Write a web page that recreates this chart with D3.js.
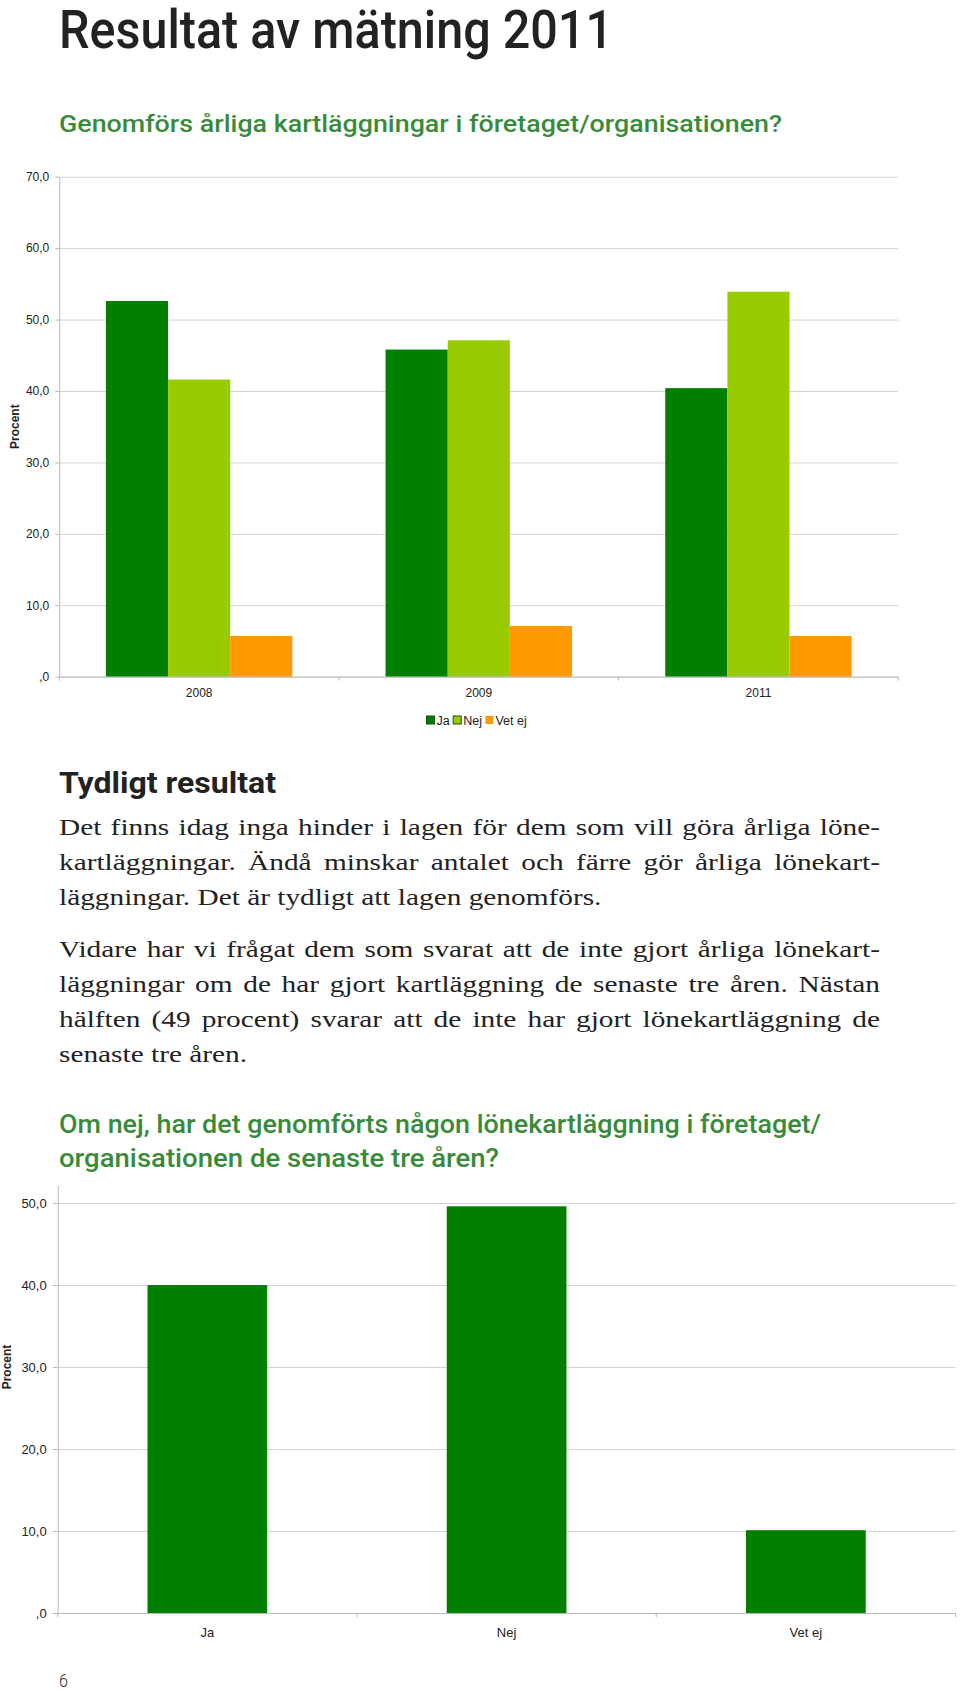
<!DOCTYPE html>
<html>
<head>
<meta charset="utf-8">
<script src="https://cdn.jsdelivr.net/npm/d3@7"></script>
<style>
body{margin:0;background:#fff;}
svg{display:block;}
</style>
</head>
<body>
<svg id="page" width="960" height="1693"></svg>
<script>
/** chart 1 : yearly answers */
var years = ['2008','2009','2011'];
var answers = ['Ja','Nej','Vet ej'];
var jaValues = [52.6, 45.8, 40.4];
var nejValues = [41.6, 47.1, 53.9];
var vetEjValues = [5.7, 7.1, 5.7];
var yTicks1 = [0,10,20,30,40,50,60,70];
var yTickLabels1 = [',0','10,0','20,0','30,0','40,0','50,0','60,0','70,0'];

/** chart 2 : last three years */
var answerValues = [40.0, 49.6, 10.1];
var yTicks2 = [0,10,20,30,40,50];
var yTickLabels2 = [',0','10,0','20,0','30,0','40,0','50,0'];

/** texts */
var pageTitle = 'Resultat av mätning 2011';
var question1 = 'Genomförs årliga kartläggningar i företaget/organisationen?';
var sectionTitle = 'Tydligt resultat';
var paragraph1 = [
	'Det finns idag inga hinder i lagen för dem som vill göra årliga löne-',
	'kartläggningar. Ändå minskar antalet och färre gör årliga lönekart-',
	'läggningar. Det är tydligt att lagen genomförs.'
];
var paragraph2 = [
	'Vidare har vi frågat dem som svarat att de inte gjort årliga lönekart-',
	'läggningar om de har gjort kartläggning de senaste tre åren. Nästan',
	'hälften (49 procent) svarar att de inte har gjort lönekartläggning de',
	'senaste tre åren.'
];
var question2 = [
	'Om nej, har det genomförts någon lönekartläggning i företaget/',
	'organisationen de senaste tre åren?'
];
var pageNumber = '6';

var seriesValues = {'Ja':jaValues,'Nej':nejValues,'Vet ej':vetEjValues};
var colors = {'Ja':'#007f00','Nej':'#99cc00','Vet ej':'#ff9900'};
var green = '#3a8a3c';
var gridColor = '#d4d4d4';
var axisColor = '#b8b8b8';
var headFont = 'Roboto, "Liberation Sans", sans-serif';
var chartFont = '"Liberation Sans", Arial, sans-serif';
var serifFont = '"Liberation Serif", "Times New Roman", serif';

var svg = d3.select('#page');

/** squeezed heading text (the original face is a condensed grotesque) */
function heading(str, x, y, size, width, color, weight){
	return svg.append('text')
	.attr('x', x).attr('y', y)
	.attr('font-family', headFont)
	.attr('font-size', size)
	.attr('font-weight', weight)
	.attr('fill', color)
	.attr('textLength', width)
	.attr('lengthAdjust', 'spacingAndGlyphs')
	.text(str);
}

heading(pageTitle, 59, 48, 53, 554, '#222', 500);
heading(question1, 59, 131.5, 24, 723, green, 500);
heading(sectionTitle, 59, 793, 30, 217, '#222', 700);
heading(question2[0], 59, 1133, 25, 762, green, 500);
heading(question2[1], 59, 1167, 25, 440, green, 500);
heading(pageNumber, 59, 1687, 19, 9, '#333', 300);

/** body text : the original serif is wider, so words are stretched;
 *  justified lines share the rest as word spacing, last lines stay natural */
function paragraph(lines, x, y0, lineHeight, right){
	var size = 23, stretch = 1.275;
	lines.forEach(function(line, i){
		var y = y0 + i*lineHeight;
		var last = (i === lines.length-1);
		var words = line.split(' ');
		var g = svg.append('g').attr('font-family', serifFont).attr('font-size', size).attr('fill', '#222');
		var nodes = words.map(function(w){ return g.append('text').attr('y', y).text(w); });
		var widths = nodes.map(function(n){ return n.node().getComputedTextLength()*stretch; });
		var space = size*0.25*stretch;
		if(!last){
			space = (right - x - d3.sum(widths))/(words.length-1);
		}
		var cx = x;
		nodes.forEach(function(n, k){
			n.attr('x', cx)
			.attr('textLength', widths[k])
			.attr('lengthAdjust', 'spacingAndGlyphs');
			cx += widths[k] + space;
		});
	});
}
paragraph(paragraph1, 59, 835, 35, 880);
paragraph(paragraph2, 59, 957, 35, 880);

/** common axis styling */
function styleAxis(g, size){
	g.selectAll('.domain').attr('stroke', axisColor);
	g.selectAll('.tick line').attr('stroke', axisColor);
	g.selectAll('.tick text').attr('fill', '#222').attr('font-family', chartFont).attr('font-size', size);
}

function procentLabel(x, y){
	svg.append('text')
	.attr('transform', 'translate(' + x + ',' + y + ') rotate(-90)')
	.attr('text-anchor', 'middle')
	.attr('font-family', chartFont)
	.attr('font-size', 12)
	.attr('font-weight', 'bold')
	.attr('fill', '#222')
	.text('Procent');
}

/** ---------- chart 1 ---------- */
(function(){
	var left = 59.3, right = 898.3, top = 176.7, bottom = 676.7;
	var x0 = d3.scaleBand().domain(years).range([left, right]);
	var x1 = d3.scaleBand().domain(answers).range([0, x0.bandwidth()]).paddingOuter(0.75);
	var y = d3.scaleLinear().domain([0, 70]).range([bottom, top]);

	svg.append('g')
	.attr('transform', 'translate(' + left + ',0)')
	.call(d3.axisLeft(y).tickValues(yTicks1).tickSize(-(right-left)).tickFormat(''))
	.call(function(g){
		g.select('.domain').remove();
		g.selectAll('.tick line').attr('stroke', gridColor);
	});

	var groups = svg.append('g').selectAll('g')
	.data(years)
	.join('g')
	.attr('transform', function(d){ return 'translate(' + x0(d) + ',0)'; });

	groups.selectAll('rect')
	.data(function(d, i){ return answers.map(function(a){ return {answer:a, value:seriesValues[a][i]}; }); })
	.join('rect')
	.attr('x', function(d){ return x1(d.answer); })
	.attr('y', function(d){ return y(d.value); })
	.attr('width', x1.bandwidth())
	.attr('height', function(d){ return bottom - y(d.value); })
	.attr('fill', function(d){ return colors[d.answer]; });

	var yAxis = svg.append('g')
	.attr('transform', 'translate(' + left + ',0)')
	.call(d3.axisLeft(y).tickValues(yTicks1).tickFormat(function(d, i){ return yTickLabels1[i]; }).tickSize(4).tickSizeOuter(0).tickPadding(6));
	styleAxis(yAxis, 12);

	// x axis : labels at band centres, small ticks at band limits
	var xAxis = svg.append('g')
	.attr('transform', 'translate(0,' + bottom + ')')
	.call(d3.axisBottom(x0).tickSize(0).tickSizeOuter(0).tickPadding(12));
	styleAxis(xAxis, 12);
	xAxis.selectAll('.bound')
	.data(years.map(function(d){ return x0(d); }).concat([right]))
	.join('line')
	.attr('class', 'bound')
	.attr('x1', function(d){ return d; }).attr('x2', function(d){ return d; })
	.attr('y1', 0).attr('y2', 4)
	.attr('stroke', axisColor);

	procentLabel(18.5, 426.7);

	// legend
	var legend = svg.append('g').attr('font-family', chartFont).attr('font-size', 12.5).attr('fill', '#222');
	var lx = 426;
	answers.forEach(function(a){
		legend.append('rect')
		.attr('x', lx + 0.5).attr('y', 716).attr('width', 8).attr('height', 8)
		.attr('fill', colors[a])
		.attr('stroke', a === 'Vet ej' ? 'none' : '#1d4d12')
		.attr('stroke-width', 1);
		var t = legend.append('text').attr('x', lx + 10.5).attr('y', 724.5).text(a);
		lx += 10.5 + t.node().getComputedTextLength() + 3;
	});
})();

/** ---------- chart 2 ---------- */
(function(){
	var left = 57.7, right = 955.5, top = 1185, bottom = 1613;
	var x = d3.scaleBand().domain(answers).range([left, right]).paddingInner(0.6).paddingOuter(0.3);
	var xBounds = d3.scaleBand().domain(answers).range([left, right]);
	var y = d3.scaleLinear().domain([0, 52.2]).range([bottom, top]);

	svg.append('g')
	.attr('transform', 'translate(' + left + ',0)')
	.call(d3.axisLeft(y).tickValues(yTicks2).tickSize(-(right-left)).tickFormat(''))
	.call(function(g){
		g.select('.domain').remove();
		g.selectAll('.tick line').attr('stroke', gridColor);
	});

	svg.append('g').selectAll('rect')
	.data(answers)
	.join('rect')
	.attr('x', function(d){ return x(d); })
	.attr('y', function(d, i){ return y(answerValues[i]); })
	.attr('width', x.bandwidth())
	.attr('height', function(d, i){ return bottom - y(answerValues[i]); })
	.attr('fill', colors['Ja']);

	var yAxis = svg.append('g')
	.attr('transform', 'translate(' + left + ',0)')
	.call(d3.axisLeft(y).tickValues(yTicks2).tickFormat(function(d, i){ return yTickLabels2[i]; }).tickSize(5).tickSizeOuter(0).tickPadding(6));
	styleAxis(yAxis, 13);

	var xAxis = svg.append('g')
	.attr('transform', 'translate(0,' + bottom + ')')
	.call(d3.axisBottom(x).tickSize(0).tickSizeOuter(0).tickPadding(15));
	styleAxis(xAxis, 13);
	xAxis.selectAll('.bound')
	.data(answers.map(function(d){ return xBounds(d); }).concat([right]))
	.join('line')
	.attr('class', 'bound')
	.attr('x1', function(d){ return d; }).attr('x2', function(d){ return d; })
	.attr('y1', 0).attr('y2', 4)
	.attr('stroke', axisColor);

	procentLabel(11, 1367);
})();
</script>
</body>
</html>
